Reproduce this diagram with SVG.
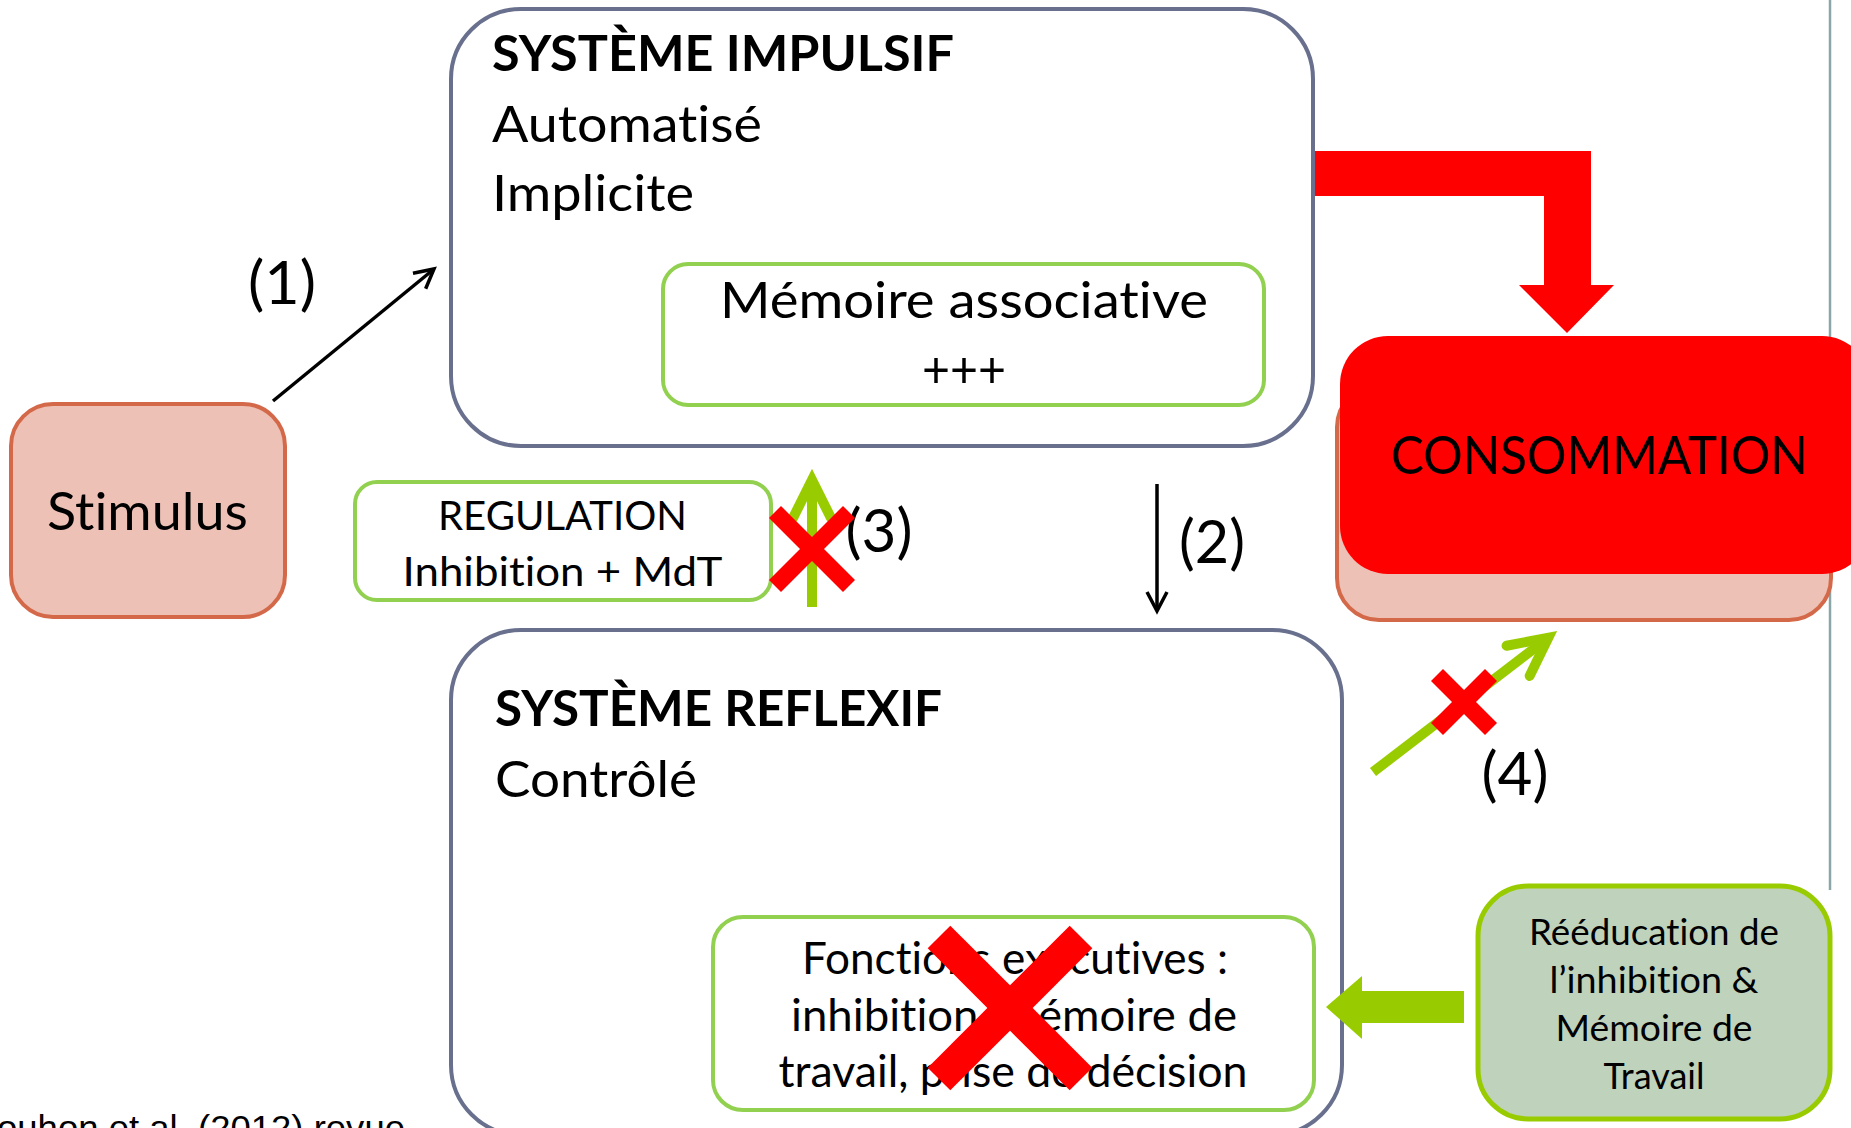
<svg xmlns="http://www.w3.org/2000/svg" width="1851" height="1128" viewBox="0 0 1851 1128">
  <style>
    .t { font-family: Lato, "Liberation Sans", sans-serif; fill: #000; font-variant-ligatures: none; font-feature-settings: "liga" 0, "clig" 0, "dlig" 0, "calt" 0; }
    .b { font-weight: 700; }
    .sys { fill: #fff; stroke: #68708e; stroke-width: 4; }
    .inner { fill: #fff; stroke: #92d050; stroke-width: 4; }
    .xm { stroke: #ff0000; stroke-linecap: butt; fill: none; }
    .garrow { stroke: #99cc00; stroke-width: 10; fill: none; }
    .barrow { stroke: #000; stroke-width: 3.5; fill: none; }
    .lbl { font-family: Lato, "Liberation Sans", sans-serif; font-size: 60px; fill: #000; text-anchor: middle; }
  </style>
  <defs>
    <marker id="ahb" markerUnits="userSpaceOnUse" viewBox="-30 -15 34 30" refX="0" refY="0" markerWidth="34" markerHeight="30" orient="auto" overflow="visible">
      <path d="M-19,-10 L0,0 L-19,10" fill="none" stroke="#000" stroke-width="3.5"/>
    </marker>
    <marker id="ahg" markerUnits="userSpaceOnUse" viewBox="-50 -30 60 60" refX="0" refY="0" markerWidth="60" markerHeight="60" orient="auto" overflow="visible">
      <path d="M-38,-19 L0,0 L-38,19" fill="none" stroke="#99cc00" stroke-width="10" stroke-linecap="round" stroke-linejoin="miter"/>
    </marker>
  </defs>
  <rect x="0" y="0" width="1851" height="1128" fill="#fff"/>
  <line x1="1830" y1="0" x2="1830" y2="890" stroke="#8ba6a6" stroke-width="2.5"/>

  <g id="impulsif">
    <rect class="sys" x="451" y="9" width="862" height="437" rx="70"/>
    <text class="t b" x="492" y="71" font-size="50" textLength="462" lengthAdjust="spacingAndGlyphs">SYSTÈME IMPULSIF</text>
    <text class="t" x="492" y="142" font-size="50" textLength="270" lengthAdjust="spacingAndGlyphs">Automatisé</text>
    <text class="t" x="492" y="211" font-size="50" textLength="202" lengthAdjust="spacingAndGlyphs">Implicite</text>
  </g>
  <g id="memoire">
    <rect class="inner" x="663" y="264" width="601" height="141" rx="25"/>
    <text class="t" x="964" y="318" font-size="50" text-anchor="middle" textLength="488" lengthAdjust="spacingAndGlyphs">Mémoire associative</text>
    <text class="t" x="964" y="387" font-size="50" text-anchor="middle" textLength="84" lengthAdjust="spacingAndGlyphs">+++</text>
  </g>
  <g id="reflexif">
    <rect class="sys" x="451" y="630" width="891" height="505" rx="70"/>
    <text class="t b" x="495" y="726" font-size="50" textLength="447" lengthAdjust="spacingAndGlyphs">SYSTÈME REFLEXIF</text>
    <text class="t" x="495" y="797" font-size="50" textLength="202" lengthAdjust="spacingAndGlyphs">Contrôlé</text>
  </g>
  <g id="fonctions">
    <rect class="inner" x="713" y="917" width="601" height="193" rx="30"/>
    <text class="t" x="1015" y="974" font-size="45" text-anchor="middle" textLength="426" lengthAdjust="spacingAndGlyphs">Fonctions exécutives :</text>
    <text class="t" x="1014" y="1031" font-size="45" text-anchor="middle" textLength="446" lengthAdjust="spacingAndGlyphs">inhibition, mémoire de</text>
    <text class="t" x="1013" y="1087" font-size="45" text-anchor="middle" textLength="469" lengthAdjust="spacingAndGlyphs">travail, prise de décision</text>
  </g>
  <g id="stimulus">
    <rect x="11" y="404" width="274" height="213" rx="42" fill="#edc1b5" stroke="#d4694a" stroke-width="4"/>
    <text class="t" x="147.5" y="530" font-size="53" text-anchor="middle" textLength="201" lengthAdjust="spacingAndGlyphs">Stimulus</text>
  </g>
  <g id="regulation">
    <rect class="inner" x="355" y="482" width="416" height="118" rx="22"/>
    <text class="t" x="562.5" y="530" font-size="41" text-anchor="middle" textLength="249" lengthAdjust="spacingAndGlyphs">REGULATION</text>
    <text class="t" x="562.5" y="586" font-size="41" text-anchor="middle" textLength="320" lengthAdjust="spacingAndGlyphs">Inhibition + MdT</text>
  </g>
  <g id="consommation">
    <rect x="1337" y="385" width="494" height="235" rx="42" fill="#edc1b5" stroke="#d4694a" stroke-width="4"/>
    <rect x="1340" y="336" width="530" height="238" rx="48" fill="#ff0000"/>
    <text class="t" x="1599.5" y="474" font-size="52" text-anchor="middle" textLength="417" lengthAdjust="spacingAndGlyphs">CONSOMMATION</text>
  </g>
  <g id="reeducation">
    <rect x="1478" y="886" width="352" height="233" rx="50" fill="#bfd2bc" stroke="#99cc00" stroke-width="5"/>
    <text class="t" x="1654" y="945" font-size="36" text-anchor="middle" textLength="250" lengthAdjust="spacingAndGlyphs">Rééducation de</text>
    <text class="t" x="1654" y="993" font-size="36" text-anchor="middle" textLength="209" lengthAdjust="spacingAndGlyphs">l’inhibition &amp;</text>
    <text class="t" x="1654" y="1041" font-size="36" text-anchor="middle" textLength="197" lengthAdjust="spacingAndGlyphs">Mémoire de</text>
    <text class="t" x="1654" y="1089" font-size="36" text-anchor="middle" textLength="101" lengthAdjust="spacingAndGlyphs">Travail</text>
  </g>

  <g id="connectors">
    <line class="barrow" x1="273" y1="401" x2="434" y2="269" marker-end="url(#ahb)"/>
    <line class="barrow" x1="1157" y1="484" x2="1157" y2="611" marker-end="url(#ahb)"/>
    <polygon points="1315,151 1591,151 1591,285 1614,285 1567,333 1519,285 1544,285 1544,196 1315,196" fill="#ff0000"/>
    <line class="garrow" x1="812" y1="607" x2="812" y2="480" marker-end="url(#ahg)"/>
    <line class="garrow" x1="1373" y1="772" x2="1548.3" y2="637.7" marker-end="url(#ahg)"/>
    <polygon points="1464,991 1362,991 1362,976 1326,1007 1362,1039 1362,1023 1464,1023" fill="#99cc00"/>
  </g>

  <g id="labels">
    <text class="lbl" x="282" y="304" textLength="68" lengthAdjust="spacingAndGlyphs">(1)</text>
    <text class="lbl" x="1212" y="563" textLength="66" lengthAdjust="spacingAndGlyphs">(2)</text>
    <text class="lbl" x="879" y="552" textLength="67" lengthAdjust="spacingAndGlyphs">(3)</text>
    <text class="lbl" x="1515" y="795" textLength="67" lengthAdjust="spacingAndGlyphs">(4)</text>
  </g>

  <g id="crosses">
    <g class="xm" stroke-width="17">
      <line x1="775" y1="512" x2="849" y2="586"/>
      <line x1="849" y1="512" x2="775" y2="586"/>
    </g>
    <g class="xm" stroke-width="17">
      <line x1="1437" y1="675" x2="1491" y2="729"/>
      <line x1="1491" y1="675" x2="1437" y2="729"/>
    </g>
    <g class="xm" stroke-width="32">
      <line x1="939" y1="937" x2="1081" y2="1079"/>
      <line x1="1081" y1="937" x2="939" y2="1079"/>
    </g>
  </g>

  <text x="-3" y="1140" font-family="'Liberation Sans', Arial, sans-serif" font-size="35" fill="#000" textLength="408" lengthAdjust="spacingAndGlyphs">ouhon et al. (2012) revue</text>
</svg>
